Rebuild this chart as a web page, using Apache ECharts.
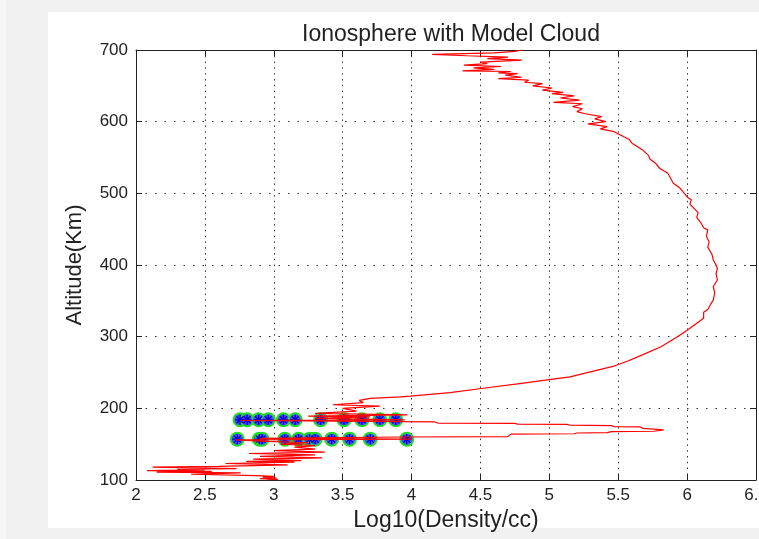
<!DOCTYPE html>
<html>
<head>
<meta charset="utf-8">
<script src="https://cdn.jsdelivr.net/npm/echarts@6/dist/echarts.min.js"></script>
<style>
  html,body{margin:0;padding:0;background:#f1f1f1;}
  #edge{position:absolute;left:0;top:0;width:6px;height:539px;background:#f7f7f7;}
  #panel{position:absolute;left:48px;top:12px;width:711px;height:516px;background:#ffffff;}
  #main{position:absolute;left:0;top:0;width:759px;height:539px;}
</style>
</head>
<body>
<div id="edge"></div>
<div id="panel"></div>
<div id="main"></div>
<script>
// ---- data ----
const xTicks = [2, 2.5, 3, 3.5, 4, 4.5, 5, 5.5, 6, 6.5];
const yTicks = [100, 200, 300, 400, 500, 600, 700];

// electron density profile: [log10(density/cc), altitude km], ordered by altitude
const profile = [
  [2.95,100],[3.03,101],[2.9,102],[3.02,103],[2.92,104],[3.0,105],[2.88,106],
  [2.4,108],[2.76,110],[2.15,111],[2.55,112],[2.08,113],[2.5,114],[2.3,115],
  [2.73,116],[2.12,118],[2.6,119],[3.1,121],[2.65,123],[3.15,125],[2.8,126],
  [3.2,127],[2.85,129],[3.35,131],[2.9,133],[3.3,135],[2.82,137],[3.37,139],
  [3.0,141],[3.3,143],[3.15,146],[3.3,148],[3.05,150],[3.25,152],[2.95,154],
  [2.72,156],[4.0,157],[2.9,158],[3.92,160],[4.7,160.5],[4.72,164],[5.18,164.5],
  [5.2,165.6],[5.42,166],[5.45,167.5],[5.76,168],[5.83,170],[5.68,172],[5.66,174],
  [5.47,174.5],[5.45,176],[5.15,176.5],[5.13,177.5],[4.77,178],[4.75,179],
  [4.19,179.5],[4.17,181],[2.76,183],[3.95,184],[3.3,186],[3.7,188],[3.25,189],
  [3.97,191],[3.3,193],[3.6,196],[3.5,200],[3.77,203],[3.43,205],[3.65,208],
  [3.62,211],[3.7,214],[3.92,216],[3.99,217],[4.28,222],[4.52,228],[4.77,234],
  [5.0,240],[5.15,244],[5.32,252],[5.47,259],[5.57,266],[5.68,275],[5.81,286],
  [5.93,300],[6.0,309],[6.05,316],[6.1,323],[6.12,326],[6.12,334],[6.15,338],
  [6.17,345],[6.19,351],[6.2,361],[6.19,370],[6.22,379],[6.21,388],[6.22,395],
  [6.21,400],[6.19,407],[6.18,415],[6.15,425],[6.16,432],[6.14,440],[6.15,449],
  [6.12,452],[6.1,459],[6.07,466],[6.08,473],[6.04,481],[6.02,485],[6.03,491],
  [6.0,495],[5.98,500],[5.95,507],[5.9,514],[5.88,521],[5.86,528],[5.8,535],
  [5.77,542],[5.73,548],[5.72,553],[5.68,560],[5.64,565],[5.6,570],[5.58,575],
  [5.53,580],[5.47,586],[5.37,590],[5.42,593],[5.28,597],[5.41,600],
  [5.33,604],[5.38,607],[5.26,611],[5.2,614],[5.24,618],[5.17,621],[5.24,625],
  [5.03,627],[5.22,630],[5.08,633],[5.18,636],[5.02,639],[5.1,641],[4.95,644],
  [5.02,647],[4.88,650],[4.95,653],[4.82,655],[4.85,658],[4.63,660],[4.8,662],
  [4.68,665],[4.77,667],[4.63,668],[4.72,670],[4.37,671],[4.6,673],[4.45,675],
  [4.65,677],[4.38,679],[4.55,681],[4.5,683],[4.8,686],[4.55,688],[4.7,690],
  [4.4,692],[4.15,694],[4.6,696],[4.75,698],[4.8,700]
];

// model cloud points
const upperCloudAltitude = 184;
const upperCloudX = [2.755, 2.806, 2.89, 2.96, 3.07, 3.155, 3.34, 3.51, 3.64, 3.77, 3.885];
const lowerCloudAltitude = 157;
const lowerCloudX = [2.735, 2.895, 2.915, 3.08, 3.18, 3.26, 3.30, 3.42, 3.55, 3.70, 3.965];

// ---- chart ----
const FONT = 'Liberation Sans, Arial, Helvetica, sans-serif';
const TXT = '#222222';
const cloud = upperCloudX.map(x => [x, upperCloudAltitude])
  .concat(lowerCloudX.map(x => [x, lowerCloudAltitude]));

const chart = echarts.init(document.getElementById('main'), null, {renderer: 'canvas'});

const baseX = {
  type: 'value', min: xTicks[0], max: xTicks[xTicks.length - 1], interval: 0.5,
  axisLine: {show: true, onZero: false, lineStyle: {color: TXT, width: 1}},
  axisTick: {show: true, inside: true, length: 6, lineStyle: {color: TXT}},
};
const baseY = {
  type: 'value', min: yTicks[0], max: yTicks[yTicks.length - 1], interval: 100,
  axisLine: {show: true, onZero: false, lineStyle: {color: TXT, width: 1}},
  axisTick: {show: true, inside: true, length: 6, lineStyle: {color: TXT}},
};

chart.setOption({
  animation: false,
  backgroundColor: 'transparent',
  title: {
    text: 'Ionosphere with Model Cloud',
    left: 446, top: 18, textAlign: 'center',
    textStyle: {fontFamily: FONT, fontSize: 23, fontWeight: 'normal', color: TXT}
  },
  grid: {left: 136, right: 3, top: 50, bottom: 59, containLabel: false, outerBoundsMode: 'none'},
  xAxis: [
    Object.assign({}, baseX, {
      position: 'bottom',
      axisLabel: {show: true, fontFamily: FONT, fontSize: 17, color: TXT, margin: 7,
                  showMaxLabel: true, showMinLabel: true, hideOverlap: false},
      splitLine: {show: true, lineStyle: {type: [1.5, 4.3], color: '#333', width: 1}},
      name: 'Log10(Density/cc)', nameLocation: 'middle', nameGap: 28,
      nameTextStyle: {fontFamily: FONT, fontSize: 23, color: TXT}
    }),
    Object.assign({}, baseX, {
      position: 'top',
      axisLabel: {show: false},
      splitLine: {show: false}
    })
  ],
  yAxis: [
    Object.assign({}, baseY, {
      position: 'left',
      axisLabel: {show: true, fontFamily: FONT, fontSize: 17, color: TXT, margin: 8},
      splitLine: {show: true, lineStyle: {type: [1.5, 8], color: '#333', width: 1}},
      name: 'Altitude(Km)', nameLocation: 'middle', nameGap: 50,
      nameTextStyle: {fontFamily: FONT, fontSize: 22, color: TXT}
    }),
    Object.assign({}, baseY, {
      position: 'right',
      axisLabel: {show: false},
      splitLine: {show: false}
    })
  ],
  series: [
    {
      type: 'scatter', xAxisIndex: 0, yAxisIndex: 0, data: cloud, z: 2,
      symbol: 'circle', symbolSize: 13,
      itemStyle: {color: '#4a4aff', borderColor: '#22dd22', borderWidth: 2, opacity: 1},
      silent: true
    },
    {
      type: 'scatter', xAxisIndex: 0, yAxisIndex: 0, data: cloud, z: 3,
      symbol: 'path://M0,-6L0,6M-6,0L6,0M-4.2,-4.2L4.2,4.2M-4.2,4.2L4.2,-4.2',
      symbolSize: 10,
      itemStyle: {color: 'rgba(0,0,0,0)', borderColor: '#0000cc', borderWidth: 1.3, opacity: 1},
      silent: true
    },
    {
      type: 'line', xAxisIndex: 0, yAxisIndex: 0, data: profile, z: 4,
      symbol: 'none', showSymbol: false, clip: true,
      lineStyle: {color: '#ff0000', width: 1.2},
      silent: true
    }
  ]
});
</script>
</body>
</html>
